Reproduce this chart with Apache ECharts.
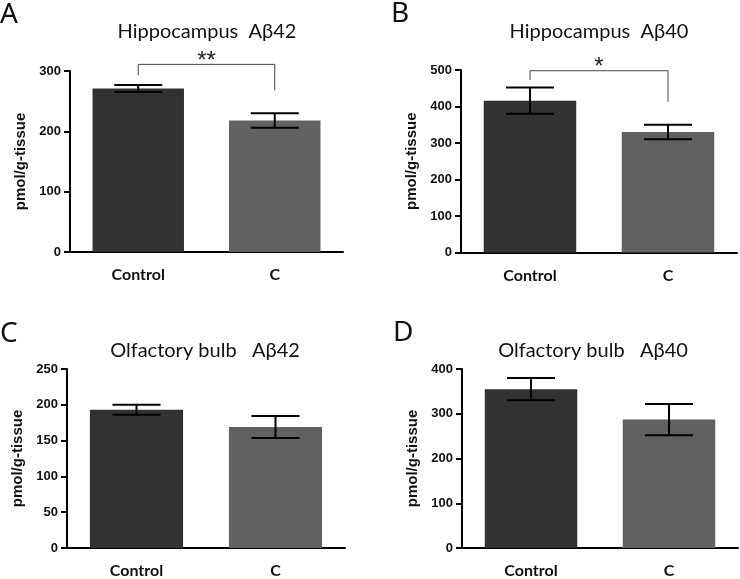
<!DOCTYPE html>
<html>
<head>
<meta charset="utf-8">
<script src="https://cdn.jsdelivr.net/npm/echarts@6/dist/echarts.min.js"></script>
<style>
html,body{margin:0;padding:0;background:#fff;}
#chart{width:740px;height:579px;}
</style>
</head>
<body>
<div id="chart"></div>
<script>
// ---- data ----
const categories = ['Control', 'C'];
const panelLetters = ['A', 'B', 'C', 'D'];
const panelTitles = ['Hippocampus  A\u03b242', 'Hippocampus  A\u03b240', 'Olfactory bulb   A\u03b242', 'Olfactory bulb   A\u03b240'];
const yAxisName = 'pmol/g-tissue';

const hippoA42Mean = [271, 218];
const hippoA42Err  = [6, 12];
const hippoA40Mean = [416, 330];
const hippoA40Err  = [36, 20];
const olfA42Mean   = [193, 169];
const olfA42Err    = [7, 15.5];
const olfA40Mean   = [355, 287];
const olfA40Err    = [25, 35];

const yMax      = [300, 500, 250, 400];
const yInterval = [100, 100, 50, 100];

// significance annotations (value levels)
const sigA = {text: '**', top: 311, leftEnd: 293, rightEnd: 268};
const sigB = {text: '*',  top: 498, leftEnd: 473, rightEnd: 413};
const sigs = [sigA, sigB, null, null];

const means = [hippoA42Mean, hippoA40Mean, olfA42Mean, olfA40Mean];
const errs  = [hippoA42Err, hippoA40Err, olfA42Err, olfA40Err];

// ---- layout ----
const grids = [
  {left: 70,  top: 71,  width: 273, height: 181},
  {left: 461, top: 70,  width: 276, height: 182.5},
  {left: 67,  top: 369, width: 278, height: 183.5},
  {left: 462, top: 369, width: 276, height: 183.5}
];
const barColors = ['#323232', '#616161'];

const chart = echarts.init(document.getElementById('chart'), null, {renderer: 'canvas'});

const option = {
  backgroundColor: '#fff',
  animation: false,
  grid: grids.map(g => Object.assign({containLabel: false}, g)),
  xAxis: grids.map((g, i) => ({
    type: 'category', gridIndex: i, data: categories,
    axisLine: {lineStyle: {color: '#000', width: 2}},
    axisTick: {alignWithLabel: true, length: 6, lineStyle: {color: '#000', width: 2}},
    axisLabel: {color: '#111', fontFamily: 'Lato', fontWeight: 'bold', fontSize: 16, margin: 15},
    splitLine: {show: false}
  })),
  yAxis: grids.map((g, i) => ({
    type: 'value', gridIndex: i, min: 0, max: yMax[i], interval: yInterval[i],
    name: yAxisName, nameLocation: 'middle', nameGap: 42,
    nameTextStyle: {color: '#111', fontFamily: 'Liberation Sans', fontWeight: 'bold', fontSize: 15},
    axisLine: {show: true, lineStyle: {color: '#000', width: 2}},
    axisTick: {show: true, length: 6, lineStyle: {color: '#000', width: 2}},
    axisLabel: {color: '#111', fontFamily: 'Liberation Sans', fontWeight: 'bold', fontSize: 13, margin: 9},
    splitLine: {show: false}
  })),
  series: [],
  graphic: []
};

means.forEach((m, i) => {
  option.series.push({
    type: 'bar', xAxisIndex: i, yAxisIndex: i,
    barCategoryGap: '33%',
    data: m.map((v, k) => ({value: v, itemStyle: {color: barColors[k]}})),
    silent: true
  });
  option.series.push({
    type: 'custom', xAxisIndex: i, yAxisIndex: i, clip: false, z: 5,
    data: m.map((v, k) => [k, v - errs[i][k], v + errs[i][k]]),
    renderItem: function (params, api) {
      const x = api.value(0);
      const lo = api.coord([x, api.value(1)]);
      const hi = api.coord([x, api.value(2)]);
      const hw = 24;
      const st = {stroke: '#000', lineWidth: 2};
      return {type: 'group', children: [
        {type: 'line', shape: {x1: lo[0], y1: lo[1], x2: hi[0], y2: hi[1]}, style: st},
        {type: 'line', shape: {x1: hi[0] - hw, y1: hi[1], x2: hi[0] + hw, y2: hi[1]}, style: st},
        {type: 'line', shape: {x1: lo[0] - hw, y1: lo[1], x2: lo[0] + hw, y2: lo[1]}, style: st}
      ]};
    }
  });
  const s = sigs[i];
  if (s) {
    option.series.push({
      type: 'custom', xAxisIndex: i, yAxisIndex: i, clip: false, z: 6,
      data: [[0, s.leftEnd, s.top, s.rightEnd]],
      renderItem: function (params, api) {
        const a = api.coord([0, api.value(1)]);
        const b = api.coord([0, api.value(2)]);
        const c = api.coord([1, api.value(2)]);
        const d = api.coord([1, api.value(3)]);
        return {type: 'group', children: [
          {type: 'polyline', shape: {points: [a, b, c, d]}, style: {stroke: '#444', lineWidth: 1, fill: null}},
          {type: 'text', style: {text: s.text, x: (b[0] + c[0]) / 2, y: b[1] + 9, align: 'center', verticalAlign: 'bottom',
            fontSize: 24, fontFamily: 'Liberation Sans', fill: '#222'}}
        ]};
      }
    });
  }
});

const titlePos = [[207, 32], [599, 32], [205, 351], [593, 351]];
const letterPos = [[0, 15], [391, 14], [0, 334], [393, 333]];
titlePos.forEach((p, i) => {
  option.graphic.push({type: 'text', x: p[0], y: p[1], style: {text: panelTitles[i], align: 'center', verticalAlign: 'middle',
    fontSize: 20, fontFamily: 'Lato', fill: '#111'}});
  option.graphic.push({type: 'text', x: letterPos[i][0], y: letterPos[i][1], style: {text: panelLetters[i], align: 'left', verticalAlign: 'middle',
    fontSize: 28, fontFamily: 'Noto Sans', fill: '#111'}});
});

chart.setOption(option);
</script>
</body>
</html>
